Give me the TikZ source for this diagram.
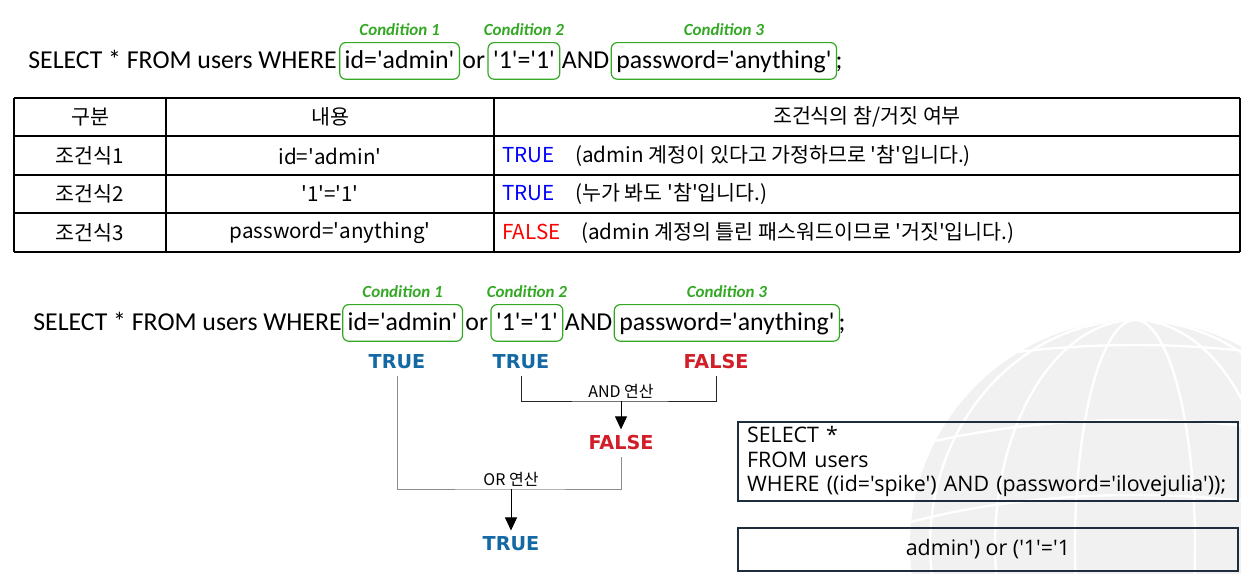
\documentclass[tikz,border=0pt]{standalone}
\usepackage{fontspec}
\setmainfont{Carlito}[Ligatures=TeXOff]
\newfontfamily\krfont{Noto Sans CJK KR}[Ligatures=TeXOff]
\newfontfamily\tfbold{DejaVu Sans}[Ligatures=TeXOff]
\newfontfamily\codefont{Open Sans}[Ligatures=TeXOff]
\usetikzlibrary{arrows.meta,positioning,calc}
\definecolor{condgreen}{RGB}{52,168,36}
\definecolor{tblue}{RGB}{20,105,165}
\definecolor{tred}{RGB}{210,30,40}
\definecolor{pureblue}{RGB}{0,0,255}
\definecolor{purered}{RGB}{255,0,0}
\definecolor{boxnavy}{RGB}{30,45,60}
\definecolor{globegray}{RGB}{241,241,241}
\definecolor{orgray}{RGB}{140,140,140}
\newcommand{\Tval}{\textcolor{pureblue}{TRUE}}
\newcommand{\Fval}{\textcolor{purered}{FALSE}}

\tikzset{
  sqltxt/.style={font=\fontsize{12.9}{14}\selectfont, inner sep=0pt,
                 text height=9.7pt, text depth=2.6pt},
  condbox/.style={sqltxt, draw=condgreen, rounded corners=3pt, line width=0.6pt,
                  inner xsep=2.5pt, inner ysep=3pt},
  condlbl/.style={text=condgreen, inner sep=0pt,
                  font=\fontsize{8.5}{9}\selectfont\bfseries\itshape},
  tbltxt/.style={font=\krfont\fontsize{10.3}{12}\selectfont, inner sep=0pt},
  tfval/.style={font=\tfbold\bfseries\fontsize{9.6}{11}\selectfont, inner sep=3pt},
  oplbl/.style={font=\krfont\fontsize{8}{9}\selectfont, inner sep=1pt},
  andline/.style={line width=0.5pt, draw=black!85},
  orline/.style={line width=0.5pt, draw=orgray},
  resarrow/.style={line width=0.5pt, -{Triangle[width=6pt,length=6.5pt]}},
  codebox/.style={draw=boxnavy, line width=1pt, inner sep=0pt,
                  font=\codefont\fontsize{10.7}{12.25}\selectfont},
}

\begin{document}
\begin{tikzpicture}[x=0.5pt, y=-0.5pt]
  \useasboundingbox (0,0) rectangle (1241,573);

  % faint globe in the background
  \begin{scope}
    \clip (0,0) rectangle (1241,573);
    \fill[globegray] (1135,545) circle (225);
    \clip (1135,545) circle (225);
    \foreach \rx in {60,140,205}
      \draw[white, line width=1.2pt] (1135,545) ellipse ({\rx} and 225);
    \foreach \dy in {-170,-95,-20}
      \draw[white, line width=1.2pt] (900,545+\dy) .. controls (1040,545+\dy-40) and (1230,545+\dy-40) .. (1370,545+\dy);
  \end{scope}

  % first query line
  \node[sqltxt, anchor=base west] (selA) at (28,68) {SELECT * FROM users WHERE};
  \node[condbox, base right=1pt of selA] (idA) {id='admin'};
  \node[sqltxt, base right=1pt of idA] (orA) {or};
  \node[condbox, base right=1pt of orA] (oneA) {'1'='1'};
  \node[sqltxt, base right=0.5pt of oneA] (andA) {AND};
  \node[condbox, base right=0.5pt of andA] (pwA) {password='anything'};
  \node[sqltxt, base right=-1pt of pwA] (semiA) {;};
  \node[condlbl, above=3pt of idA] (cA1) {Condition 1};
  \node[condlbl, above=3pt of oneA] (cA2) {Condition 2};
  \node[condlbl, above=3pt of pwA] (cA3) {Condition 3};

  % table
  \foreach \y in {98,136,175,213,252}
    \draw[line width=0.6pt] (14,\y) -- (1240,\y);
  \foreach \x in {14,166,494,1240}
    \draw[line width=0.6pt] (\x,98) -- (\x,252);
  \node[tbltxt] (h1) at (90,117) {구분};
  \node[tbltxt] (h2) at (330,117) {내용};
  \node[tbltxt] (h3) at (867,117) {조건식의 참/거짓 여부};
  \node[tbltxt] (k1) at (90,156) {조건식1};
  \node[tbltxt] (k2) at (90,194) {조건식2};
  \node[tbltxt] (k3) at (90,233) {조건식3};
  \node[tbltxt] (v1) at (330,156) {id='admin'};
  \node[tbltxt] (v2) at (330,194) {'1'='1'};
  \node[tbltxt] (v3) at (330,233) {password='anything'};
  \node[tbltxt, anchor=west] (d1) at (502,156) {\Tval\quad(admin 계정이 있다고 가정하므로 '참'입니다.)};
  \node[tbltxt, anchor=west] (d2) at (502,194) {\Tval\quad(누가 봐도 '참'입니다.)};
  \node[tbltxt, anchor=west] (d3) at (502,233) {\Fval\quad(admin 계정의 틀린 패스워드이므로 '거짓'입니다.)};

  % second query line
  \node[sqltxt, anchor=base west] (selB) at (33,330) {SELECT * FROM users WHERE};
  \node[condbox, base right=0pt of selB] (idB) {id='admin'};
  \node[sqltxt, base right=1pt of idB] (orB) {or};
  \node[condbox, base right=1pt of orB] (oneB) {'1'='1'};
  \node[sqltxt, base right=0.5pt of oneB] (andB) {AND};
  \node[condbox, base right=0.5pt of andB] (pwB) {password='anything'};
  \node[sqltxt, base right=-1pt of pwB] (semiB) {;};
  \node[condlbl, above=3pt of idB] (cB1) {Condition 1};
  \node[condlbl, above=3pt of oneB] (cB2) {Condition 2};
  \node[condlbl, above=3pt of pwB] (cB3) {Condition 3};

  % evaluation
  \node[tfval, text=tblue] (t1) at (397,362) {TRUE};
  \node[tfval, text=tblue] (t2) at (521,362) {TRUE};
  \node[tfval, text=tred] (f1) at (716,362) {FALSE};
  \node[tfval, text=tred] (f2) at (621,443) {FALSE};
  \node[tfval, text=tblue] (t3) at (511,544) {TRUE};
  \coordinate (andmid) at (621,401);
  \coordinate (ormid) at (511,489);
  \draw[andline] (t2.south) |- (andmid) -| (f1.south);
  \draw[resarrow] (andmid) -- (f2.north);
  \node[oplbl, above=0pt of andmid] (andop) {AND 연산};
  \draw[orline] (t1.south) |- (ormid) -| (f2.south);
  \draw[resarrow] (ormid) -- (t3.north);
  \node[oplbl, above=0pt of ormid] (orop) {OR 연산};

  % query boxes
  \node[codebox, anchor=north west, minimum width=250pt, minimum height=39.5pt,
        text width=241pt, align=left] (qry) at (737,421)
       {SELECT *\\FROM users\\WHERE ((id='spike') AND (password='ilovejulia'));};
  \node[codebox, anchor=north west, minimum width=250pt, minimum height=21.5pt]
       (inj) at (737,527) {admin') or ('1'='1};
\end{tikzpicture}
\end{document}
